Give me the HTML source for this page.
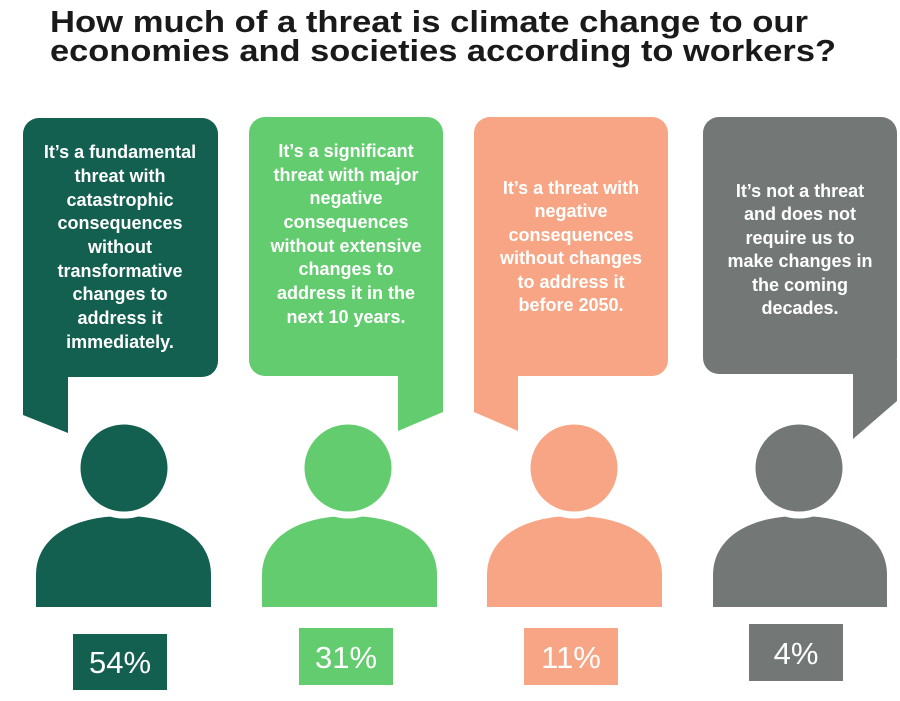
<!DOCTYPE html>
<html><head><meta charset="utf-8"><style>
html,body{margin:0;padding:0;background:#fff;}
svg{display:block;}
text{font-family:"Liberation Sans",sans-serif;}
.t{font-weight:bold;font-size:18px;fill:#fff;text-anchor:middle;}
.p{font-size:31px;fill:#fff;text-anchor:middle;}
</style></head><body>
<svg width="900" height="701" viewBox="0 0 900 701" xmlns="http://www.w3.org/2000/svg">
<text x="50" y="32" font-size="31" font-weight="bold" fill="#1a1a1a" textLength="758" lengthAdjust="spacingAndGlyphs">How much of a threat is climate change to our</text>
<text x="50" y="61" font-size="31" font-weight="bold" fill="#1a1a1a" textLength="786" lengthAdjust="spacingAndGlyphs">economies and societies according to workers?</text>

<!-- Panel 1 -->
<g fill="#135f50">
<rect x="23" y="118" width="195" height="259" rx="16"/>
<polygon points="23,360 23,415 68,433 68,360"/>
<path d="M36,607 L36,575 C36,538 72,516 124,516 C176,516 211,538 211,575 L211,607 Z"/>
<circle cx="124" cy="468" r="47" stroke="#fff" stroke-width="7"/>
<rect x="73" y="634" width="94" height="56"/>
</g>
<g class="t">
<text class="t" x="120" y="158">It’s a fundamental</text>
<text class="t" x="120" y="182">threat with</text>
<text class="t" x="120" y="206">catastrophic</text>
<text class="t" x="120" y="229">consequences</text>
<text class="t" x="120" y="253">without</text>
<text class="t" x="120" y="277">transformative</text>
<text class="t" x="120" y="300">changes to</text>
<text class="t" x="120" y="324">address it</text>
<text class="t" x="120" y="348">immediately.</text>
</g>
<text class="p" x="120" y="673">54%</text>

<!-- Panel 2 -->
<g fill="#62cc6f">
<rect x="249" y="117" width="194" height="259" rx="16"/>
<polygon points="398,360 443,360 443,412 398,431"/>
<path d="M262,607 L262,575 C262,538 298,516 349,516 C401,516 437,538 437,575 L437,607 Z"/>
<circle cx="348" cy="468" r="47" stroke="#fff" stroke-width="7"/>
<rect x="299" y="628" width="94" height="57"/>
</g>
<text class="t" x="346" y="157">It’s a significant</text>
<text class="t" x="346" y="181">threat with major</text>
<text class="t" x="346" y="204">negative</text>
<text class="t" x="346" y="228">consequences</text>
<text class="t" x="346" y="252">without extensive</text>
<text class="t" x="346" y="275">changes to</text>
<text class="t" x="346" y="299">address it in the</text>
<text class="t" x="346" y="323">next 10 years.</text>
<text class="p" x="346" y="668">31%</text>

<!-- Panel 3 -->
<g fill="#f7a584">
<rect x="474" y="117" width="194" height="259" rx="16"/>
<polygon points="474,360 474,412 518,431 518,360"/>
<path d="M487,607 L487,575 C487,538 523,516 574,516 C626,516 662,538 662,575 L662,607 Z"/>
<circle cx="574" cy="468" r="47" stroke="#fff" stroke-width="7"/>
<rect x="524" y="628" width="94" height="57"/>
</g>
<text class="t" x="571" y="194">It’s a threat with</text>
<text class="t" x="571" y="217">negative</text>
<text class="t" x="571" y="241">consequences</text>
<text class="t" x="571" y="264">without changes</text>
<text class="t" x="571" y="288">to address it</text>
<text class="t" x="571" y="311">before 2050.</text>
<text class="p" x="571" y="668">11%</text>

<!-- Panel 4 -->
<g fill="#737876">
<rect x="703" y="117" width="194" height="257" rx="16"/>
<polygon points="853,360 897,360 897,401 853,439"/>
<path d="M713,607 L713,575 C713,538 749,516 800,516 C852,516 887,538 887,575 L887,607 Z"/>
<circle cx="799" cy="468" r="47" stroke="#fff" stroke-width="7"/>
<rect x="749" y="624" width="94" height="57"/>
</g>
<text class="t" x="800" y="197">It’s not a threat</text>
<text class="t" x="800" y="220">and does not</text>
<text class="t" x="800" y="244">require us to</text>
<text class="t" x="800" y="267">make changes in</text>
<text class="t" x="800" y="291">the coming</text>
<text class="t" x="800" y="314">decades.</text>
<text class="p" x="796" y="664">4%</text>
</svg>
</body></html>
